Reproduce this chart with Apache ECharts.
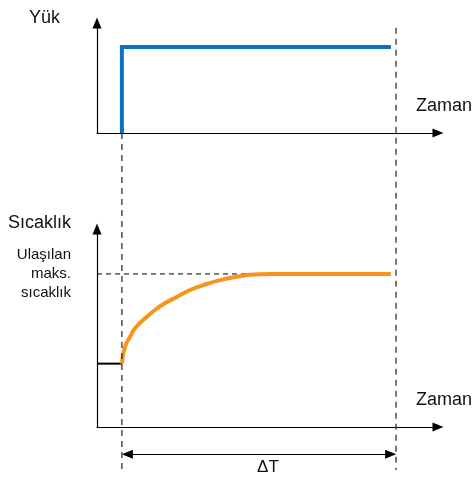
<!DOCTYPE html>
<html>
<head>
<meta charset="utf-8">
<script src="https://cdn.jsdelivr.net/npm/echarts@6/dist/echarts.min.js"></script>
<style>
  html, body { margin: 0; padding: 0; background: #fff; }
  #chart { width: 473px; height: 479px; }
</style>
</head>
<body>
<div id="chart"></div>
<script>
  // zaman ekseni 0..100, deger eksenleri 0..10 (keyfi birimler)
  var stepTime = 7.3;      // yukun uygulandigi an
  var endTime = 86.2;      // egrilerin bittigi yer
  var deltaEnd = 87.7;     // ΔT sag kesikli cizgi

  // Yuk (ust grafik)
  var loadPoints = [[stepTime, 0], [stepTime, 7.82], [endTime, 7.82]];

  // Sicaklik (alt grafik) - resimden okunan noktalar
  var tempTime = [7.3, 8.2, 9.7, 11.1, 14.1, 17.0, 19.9, 23.4, 27.3, 31.2, 36.1, 41.0, 45.8, 50.7, 86.2];
  var tempValue = [3.2, 4.05, 4.56, 4.98, 5.49, 5.91, 6.25, 6.57, 6.92, 7.17, 7.42, 7.59, 7.70, 7.73, 7.73];
  var startTemp = [[0, 3.2], [stepTime, 3.2]];
  var maxTemp = 7.73;

  // ortu katmani (0..100 dikey) icin kilavuz cizgileri
  var rightGuideTop = 97.6;
  var stepGuideTop = 74.4;
  var arrowLevel = 3.5;
  var arrowHalf = 1.6;     // ok ucunun yarisi, zaman biriminde

  var tempPoints = tempTime.map(function (t, i) { return [t, tempValue[i]]; });

  var font = 'Liberation Sans, Arial, Helvetica, sans-serif';

  var axisArrow = {
    show: true,
    symbol: ['none', 'triangle'],
    symbolSize: [9, 11],
    lineStyle: { color: '#000', width: 1.2 }
  };

  function timeAxis(grid, show) {
    return {
      type: 'value', gridIndex: grid, min: 0, max: 100, show: show,
      name: show ? 'Zaman' : '',
      nameLocation: 'end',
      nameGap: 34,
      nameTextStyle: { fontFamily: font, fontSize: 18, color: '#111', align: 'right', verticalAlign: 'bottom', padding: [0, 0, 18, 0] },
      axisLine: axisArrow,
      axisTick: { show: false },
      axisLabel: { show: false },
      splitLine: { show: false }
    };
  }

  var options = {
    animation: false,
    grid: [
      { left: 97, right: 35, top: 23, height: 110 },
      { left: 97, right: 35, top: 229, height: 198 },
      { left: 97, right: 35, top: 17, height: 453 }
    ],
    xAxis: [timeAxis(0, true), timeAxis(1, true), timeAxis(2, false)],
    yAxis: [
      {
        type: 'value', gridIndex: 0, min: 0, max: 10,
        name: 'Yük', nameLocation: 'end', nameGap: 5,
        nameTextStyle: { fontFamily: font, fontSize: 18, color: '#111', align: 'right', verticalAlign: 'middle', padding: [0, 37, 0, 0] },
        axisLine: axisArrow, axisTick: { show: false }, axisLabel: { show: false }, splitLine: { show: false }
      },
      {
        type: 'value', gridIndex: 1, min: 0, max: 10,
        name: 'Sıcaklık', nameLocation: 'end', nameGap: 6,
        nameTextStyle: { fontFamily: font, fontSize: 18, color: '#111', align: 'right', verticalAlign: 'middle', padding: [0, 26, 0, 0] },
        axisLine: axisArrow, axisTick: { show: false },
        axisLabel: {
          show: true,
          customValues: [maxTemp],
          formatter: function () { return 'Ulaşılan\nmaks.\nsıcaklık'; },
          fontFamily: font, fontSize: 15, lineHeight: 19, color: '#111',
          margin: 26, padding: [0, 0, 11, 0]
        },
        splitLine: { show: false }
      },
      { type: 'value', gridIndex: 2, min: 0, max: 100, show: false }
    ],
    series: [
      {
        name: 'Yük', type: 'line', xAxisIndex: 0, yAxisIndex: 0,
        data: loadPoints, symbol: 'none',
        lineStyle: { color: '#0B72C0', width: 4, join: 'miter' }
      },
      {
        name: 'maks', type: 'line', xAxisIndex: 1, yAxisIndex: 1,
        data: [[0, maxTemp], [endTime, maxTemp]], symbol: 'none',
        lineStyle: { color: '#000', width: 1, type: [5, 4] }
      },
      {
        name: 'baslangic', type: 'line', xAxisIndex: 1, yAxisIndex: 1,
        data: startTemp, symbol: 'none',
        lineStyle: { color: '#000', width: 2 }
      },
      {
        name: 'Sıcaklık', type: 'line', xAxisIndex: 1, yAxisIndex: 1,
        data: tempPoints, symbol: 'none', smooth: 0.5,
        lineStyle: { color: '#F7941D', width: 4 }
      },
      {
        name: 'kilavuz1', type: 'line', xAxisIndex: 2, yAxisIndex: 2,
        data: [[stepTime, stepGuideTop], [stepTime, 0]], symbol: 'none',
        lineStyle: { color: '#333', width: 1.3, type: [6, 5] }
      },
      {
        name: 'kilavuz2', type: 'line', xAxisIndex: 2, yAxisIndex: 2,
        data: [[deltaEnd, rightGuideTop], [deltaEnd, 0]], symbol: 'none',
        lineStyle: { color: '#333', width: 1.3, type: [6, 5] },
        markLine: {
          silent: true,
          symbol: ['triangle', 'triangle'],
          symbolSize: [9, 11],
          lineStyle: { color: '#000', width: 1.2, type: 'solid' },
          label: {
            formatter: 'ΔT', position: 'insideMiddleBottom', distance: 5,
            fontFamily: font, fontSize: 17, color: '#111', padding: [0, 0, 0, 18]
          },
          data: [[{ coord: [stepTime + arrowHalf, arrowLevel] }, { coord: [deltaEnd - arrowHalf, arrowLevel] }]]
        }
      }
    ]
  };

  var myChart = echarts.init(document.getElementById('chart'));
  myChart.setOption(options);
</script>
</body>
</html>
